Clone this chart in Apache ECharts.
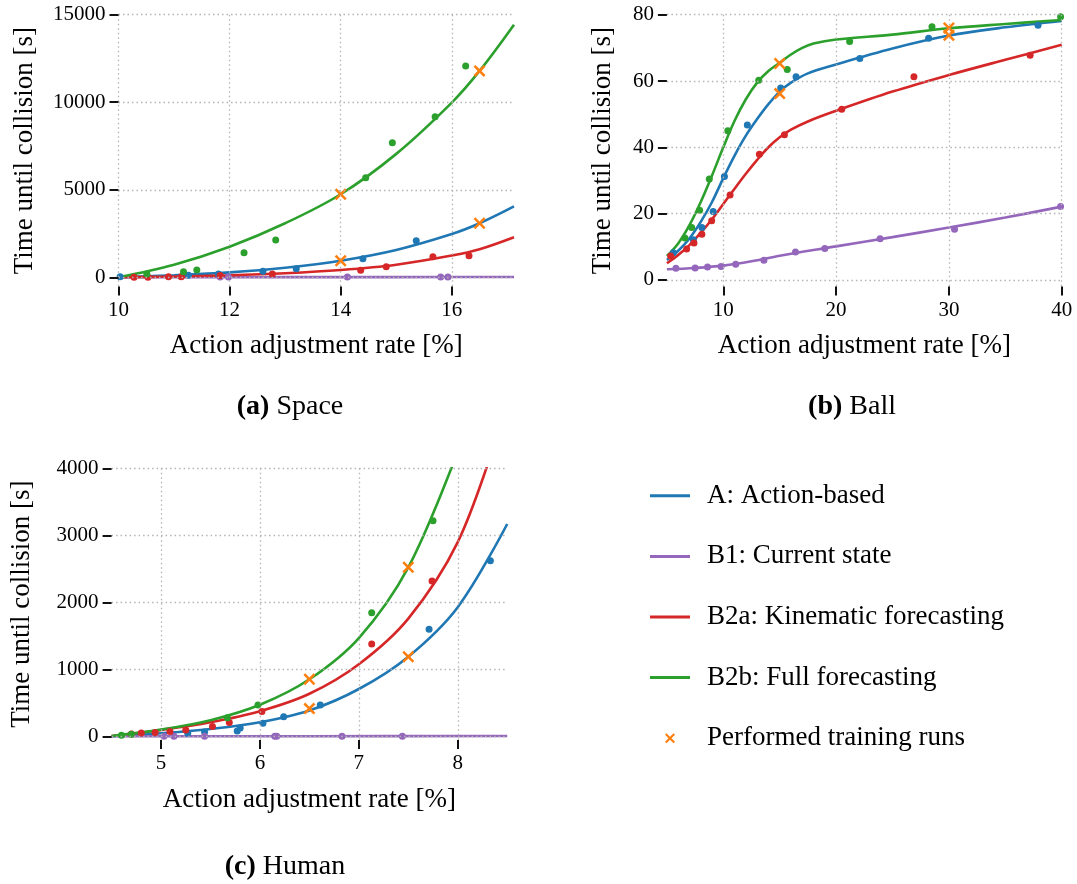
<!DOCTYPE html>
<html>
<head>
<meta charset="utf-8">
<script src="https://cdn.jsdelivr.net/npm/echarts@6/dist/echarts.min.js"></script>
<style>
html, body { margin: 0; padding: 0; background: #fff; }
#chart { width: 1077px; height: 884px; }
</style>
</head>
<body>
<div id="chart"></div>
<script>
// ---- Labels -------------------------------------------------------------
const seriesNames = ['A: Action-based', 'B1: Current state', 'B2a: Kinematic forecasting', 'B2b: Full forecasting'];
const runsName = 'Performed training runs';
const xTitle = 'Action adjustment rate [%]';
const yTitle = 'Time until collision [s]';

// ---- (a) Space ------------------------------------------------------------
const spaceXTicks = [10, 12, 14, 16];
const spaceYTicks = [0, 5000, 10000, 15000];
const spaceFitA   = [[10, 0], [11, 115], [12, 280], [13, 549], [14, 949], [15, 1560], [16, 2470], [16.5, 3086], [17.12, 4050]];
const spaceFitB1  = [[10, 0], [12, 5], [14, 10], [16, 15], [17.12, 20]];
const spaceFitB2a = [[10, 0], [11, 41], [12, 112], [13, 230], [14, 417], [15, 720], [16, 1240], [16.5, 1600], [17.12, 2286]];
const spaceFitB2b = [[10, 0], [11, 720], [12, 1749], [13, 3086], [14, 4743], [15, 7050], [16, 9980], [16.5, 11789], [17.12, 14430]];
const spacePtsA   = [[10.03, 30], [11.26, 114], [11.8, 190], [12.6, 343], [13.2, 491], [14.4, 1063], [15.36, 2091]];
const spacePtsB1  = [[11.83, 15], [11.98, 15], [14.12, 15], [15.8, 15], [15.93, 15]];
const spacePtsB2a = [[10.28, 0], [10.53, 0], [10.9, 30], [11.13, 30], [11.83, 100], [12.77, 190], [14.36, 400], [14.82, 606], [15.66, 1177], [16.31, 1234]];
const spacePtsB2b = [[10.51, 190], [11.17, 320], [11.41, 417], [12.26, 1406], [12.83, 2131], [14.45, 5691], [14.93, 7691], [15.7, 9177], [16.25, 12074]];
const spaceRuns   = [[14, 4743], [14, 949], [16.5, 11789], [16.5, 3086]];

// ---- (b) Ball ---------------------------------------------------------------
const ballXTicks = [10, 20, 30, 40];
const ballYTicks = [0, 20, 40, 60, 80];
const ballFitA   = [[5, 6.0], [6, 8.8], [7, 12.5], [8, 17.5], [9, 23.5], [10, 30.7], [11, 37.5], [12, 43.5], [13, 48.5], [14, 53], [15, 56.8], [16, 59.5], [17.5, 62.3], [20, 65], [25, 69.8], [30, 73.7], [35, 76.2], [40, 78.1]];
const ballFitB1  = [[5, 3.2], [7.5, 3.6], [10, 4.3], [12.5, 5.6], [15, 7.3], [20, 10.1], [25, 12.9], [30, 15.8], [35, 18.8], [40, 22.1]];
const ballFitB2a = [[5, 5.0], [6, 7.5], [7, 10.5], [8, 14.2], [9, 18.3], [10, 22.9], [11, 27.5], [12, 32], [13, 36.2], [14, 40], [15, 43], [16, 45.3], [17.5, 47.8], [20, 51], [25, 56.8], [30, 61.8], [35, 66.4], [40, 70.9]];
const ballFitB2b = [[5, 7.2], [6, 11], [7, 16.5], [8, 23.5], [9, 31.5], [10, 40], [11, 48], [12, 54.5], [13, 59.5], [14, 63], [15, 65.5], [16, 68], [17, 70], [18, 71.3], [20, 72.5], [25, 74], [30, 75.9], [35, 77.2], [40, 78.4]];
const ballPtsA   = [[5.57, 8.2], [7.35, 12.1], [8.1, 15.8], [9.1, 20.6], [10.1, 31.2], [12.13, 46.7], [15.09, 57.9], [16.45, 61.3], [22.1, 66.8], [28.2, 72.9], [37.9, 76.8]];
const ballPtsB1  = [[5.8, 3.5], [7.5, 3.6], [8.6, 3.9], [9.8, 4.0], [11.1, 4.7], [13.6, 5.9], [16.4, 8.4], [19.0, 9.5], [23.9, 12.4], [30.5, 15.3], [39.9, 22.1]];
const ballPtsB2a = [[5.33, 7.2], [6.75, 9.3], [7.4, 11.1], [8.1, 13.8], [8.97, 17.8], [10.6, 25.6], [13.2, 37.9], [15.42, 43.8], [20.5, 51.5], [26.9, 61.3], [37.2, 67.8]];
const ballPtsB2b = [[6.6, 12.6], [7.2, 15.8], [7.9, 21.0], [8.76, 30.4], [10.4, 45.0], [13.14, 60.2], [15.67, 63.5], [21.2, 71.9], [28.5, 76.4], [39.9, 79.4]];
const ballRuns   = [[15, 65.3], [15, 56.2], [30, 76.0], [30, 73.8]];

// ---- (c) Human --------------------------------------------------------------
const humanXTicks = [5, 6, 7, 8];
const humanYTicks = [0, 1000, 2000, 3000, 4000];
const humanFitA   = [[4.5, 5], [5, 50], [5.5, 115], [6, 215], [6.5, 390], [7, 710], [7.5, 1192], [8, 1930], [8.5, 3170]];
const humanFitB1  = [[4.5, 5], [6.5, 7], [8.5, 10]];
const humanFitB2a = [[4.5, 10], [5, 100], [5.5, 215], [6, 380], [6.5, 640], [7, 1080], [7.5, 1760], [8, 2900], [8.4, 4500]];
const humanFitB2b = [[4.5, 10], [5, 105], [5.5, 245], [6, 475], [6.5, 855], [7, 1470], [7.5, 2524], [8, 4250]];
const humanPtsA   = [[5.27, 50], [5.44, 70], [5.77, 85], [5.8, 130], [6.03, 199], [6.24, 298], [6.61, 472], [7.71, 1600], [8.33, 2623]];
const humanPtsB1  = [[5.03, 5], [5.13, 5], [5.44, 5], [6.15, 5], [6.17, 5], [6.83, 5], [7.44, 5]];
const humanPtsB2a = [[4.7, 40], [4.8, 55], [4.94, 60], [5.09, 75], [5.25, 100], [5.52, 150], [5.69, 209], [6.02, 373], [7.13, 1381], [7.74, 2320]];
const humanPtsB2b = [[4.6, 20], [4.7, 35], [5.67, 283], [5.98, 472], [7.13, 1848], [7.75, 3219]];
const humanRuns   = [[6.5, 855], [6.5, 418], [7.5, 2524], [7.5, 1192]];

// ---- Styling ----------------------------------------------------------------
const COLORS = ['#1f77b4', '#9467bd', '#d62728', '#2ca02c'];
const RUN_COLOR = '#ff7f0e';
const SERIF = '"Liberation Serif", "Times New Roman", serif';
const CROSS = 'path://M0,1.5L1.5,0L5,3.5L8.5,0L10,1.5L6.5,5L10,8.5L8.5,10L5,6.5L1.5,10L0,8.5L3.5,5Z';
const BAR = 'path://M0,0H40V3H0Z';

const panels = [
  { grid: { left: 118.5, top: 14.7, width: 395.5, height: 271.8 }, x: [10, 17.12], y: [-526, 15000],
    xTicks: spaceXTicks, yTicks: spaceYTicks, yGap: 80,
    fits: [spaceFitA, spaceFitB1, spaceFitB2a, spaceFitB2b],
    pts: [spacePtsA, spacePtsB1, spacePtsB2a, spacePtsB2b], runs: spaceRuns },
  { grid: { left: 666.9, top: 14.7, width: 394.8, height: 271.8 }, x: [5, 40], y: [-2, 80],
    xTicks: ballXTicks, yTicks: ballYTicks, yGap: 50,
    fits: [ballFitA, ballFitB1, ballFitB2a, ballFitB2b],
    pts: [ballPtsA, ballPtsB1, ballPtsB2a, ballPtsB2b], runs: ballRuns },
  { grid: { left: 111.6, top: 468.3, width: 395.6, height: 271.7 }, x: [4.5, 8.5], y: [-50, 4000],
    xTicks: humanXTicks, yTicks: humanYTicks, yGap: 76,
    fits: [humanFitA, humanFitB1, humanFitB2a, humanFitB2b],
    pts: [humanPtsA, humanPtsB1, humanPtsB2a, humanPtsB2b], runs: humanRuns }
];

// Spines are invisible; the axis line stays enabled so its ticks are placed on it.
const spine = () => ({ show: true, onZero: false, lineStyle: { color: 'rgba(0,0,0,0)', width: 1 } });
const ticks = (values) => ({ show: true, inside: false, customValues: values, length: 9, lineStyle: { color: '#111', width: 2 } });
const labels = (values) => ({ customValues: values, margin: 13, fontFamily: SERIF, fontSize: 21, color: '#000', formatter: (v) => String(v) });
const gridLine = () => ({ show: true, lineStyle: { color: '#b4b4b4', width: 1.3, type: [1.5, 3] } });
const titleFont = () => ({ fontFamily: SERIF, fontSize: 27, color: '#000' });

const grids = [], xAxes = [], yAxes = [];
const lineSeries = [], dotSeries = [], runSeries = [];

panels.forEach((p, i) => {
  grids.push(Object.assign({ containLabel: false }, p.grid));
  xAxes.push({
    type: 'value', gridIndex: i, position: 'bottom', z: 10, min: p.x[0], max: p.x[1],
    axisLine: spine(), axisTick: ticks(p.xTicks), axisLabel: labels(p.xTicks),
    splitLine: gridLine(),
    name: xTitle, nameLocation: 'middle', nameGap: 46, nameTextStyle: titleFont()
  });
  yAxes.push({
    type: 'value', gridIndex: i, position: 'left', z: 10, min: p.y[0], max: p.y[1],
    axisLine: spine(), axisTick: ticks(p.yTicks), axisLabel: labels(p.yTicks),
    splitLine: gridLine(),
    name: yTitle, nameLocation: 'middle', nameGap: p.yGap, nameTextStyle: titleFont()
  });
  p.fits.forEach((d, k) => {
    lineSeries.push({
      type: 'line', name: seriesNames[k], xAxisIndex: i, yAxisIndex: i,
      data: d, smooth: 0.35, showSymbol: false, symbol: 'none', clip: true,
      color: COLORS[k], lineStyle: { color: COLORS[k], width: 2.6 }, z: 2
    });
  });
  p.pts.forEach((d, k) => {
    dotSeries.push({
      type: 'scatter', name: seriesNames[k], xAxisIndex: i, yAxisIndex: i,
      data: d, symbol: 'circle', symbolSize: 7, color: COLORS[k],
      itemStyle: { color: COLORS[k], opacity: 1 }, z: 3
    });
  });
  runSeries.push({
    type: 'scatter', name: runsName, xAxisIndex: i, yAxisIndex: i,
    data: p.runs, symbol: CROSS, symbolSize: 12, color: RUN_COLOR,
    itemStyle: { color: RUN_COLOR, opacity: 1 }, z: 4
  });
});

const captionStyle = (text) => ({
  text: text,
  rich: { b: { fontWeight: 'bold', fontFamily: SERIF, fontSize: 28, fill: '#000' } },
  fontFamily: SERIF, fontSize: 28, fill: '#000', align: 'center', verticalAlign: 'middle'
});

const chart = echarts.init(document.getElementById('chart'), null, { renderer: 'canvas' });
chart.setOption({
  animation: false,
  backgroundColor: '#fff',
  grid: grids,
  xAxis: xAxes,
  yAxis: yAxes,
  legend: {
    orient: 'vertical', left: 645, top: 476.8,
    itemWidth: 40, itemHeight: 10, itemGap: 32.6,
    itemStyle: { borderWidth: 0 },
    textStyle: { fontFamily: SERIF, fontSize: 27, lineHeight: 28, color: '#000', padding: [0, 0, 0, 12] },
    data: seriesNames.map((n) => ({ name: n, icon: BAR })).concat([{ name: runsName, icon: CROSS }])
  },
  graphic: [
    { type: 'text', x: 290, y: 407, style: captionStyle('{b|(a)} Space') },
    { type: 'text', x: 852, y: 407, style: captionStyle('{b|(b)} Ball') },
    { type: 'text', x: 285, y: 867, style: captionStyle('{b|(c)} Human') }
  ],
  series: lineSeries.concat(dotSeries, runSeries)
});
</script>
</body>
</html>
